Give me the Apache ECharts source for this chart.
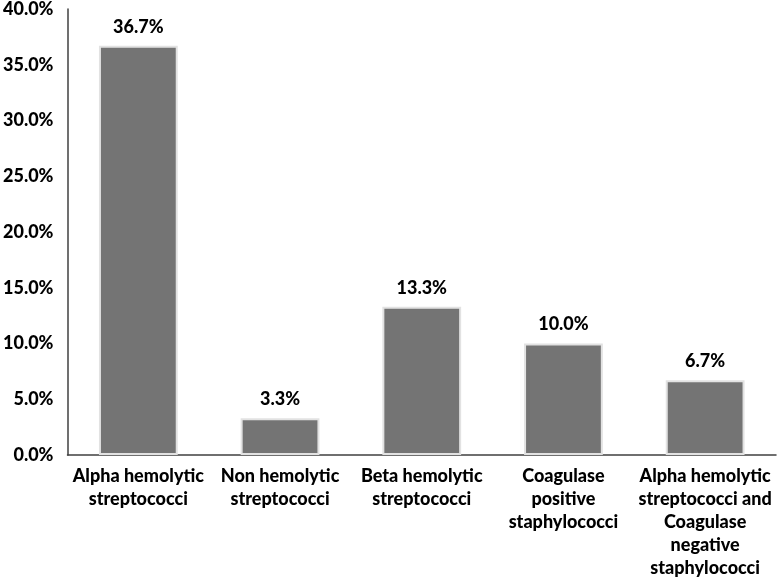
<!DOCTYPE html>
<html>
<head>
<meta charset="utf-8">
<script src="https://cdn.jsdelivr.net/npm/echarts@6/dist/echarts.min.js"></script>
<style>
html,body{margin:0;padding:0;background:#fff;}
#chart{width:779px;height:583px;}
</style>
</head>
<body>
<div id="chart"></div>
<script>
const categories = [
  "Alpha hemolytic\nstreptococci",
  "Non hemolytic\nstreptococci",
  "Beta hemolytic\nstreptococci",
  "Coagulase\npositive\nstaphylococci",
  "Alpha hemolytic\nstreptococci and\nCoagulase\nnegative\nstaphylococci"
];
const values = [36.7, 3.3, 13.3, 10.0, 6.7];
const yTicks = { min: 0, max: 40, interval: 5 };

const font = "Lato";
const weight = 900;
const chart = echarts.init(document.getElementById('chart'), null, {renderer: 'canvas'});
chart.setOption({
  animation: false,
  backgroundColor: '#ffffff',
  grid: { left: 67, right: 3, top: 9, bottom: 128, containLabel: false },
  xAxis: {
    type: 'category',
    data: categories,
    axisLine: { show: true, lineStyle: { color: '#404040', width: 1.5 } },
    axisTick: { show: false },
    axisLabel: {
      interval: 0,
      margin: 10,
      color: '#000',
      fontFamily: font,
      fontWeight: weight,
      fontSize: 18,
      lineHeight: 23
    }
  },
  yAxis: {
    type: 'value',
    min: yTicks.min, max: yTicks.max, interval: yTicks.interval,
    axisLine: { show: true, lineStyle: { color: '#404040', width: 1.5 } },
    axisTick: { show: false },
    splitLine: { show: false },
    axisLabel: {
      margin: 14,
      color: '#000',
      fontFamily: font,
      fontWeight: weight,
      fontSize: 18,
      formatter: v => v.toFixed(1) + '%'
    }
  },
  series: [{
    type: 'bar',
    data: values,
    barWidth: '55.6%',
    itemStyle: { color: '#747474', borderColor: '#e2e2e2', borderWidth: 2 },
    label: {
      show: true,
      position: 'top',
      distance: 10,
      color: '#000',
      fontFamily: font,
      fontWeight: weight,
      fontSize: 18,
      formatter: p => p.value.toFixed(1) + '%'
    }
  }]
});
</script>
</body>
</html>
